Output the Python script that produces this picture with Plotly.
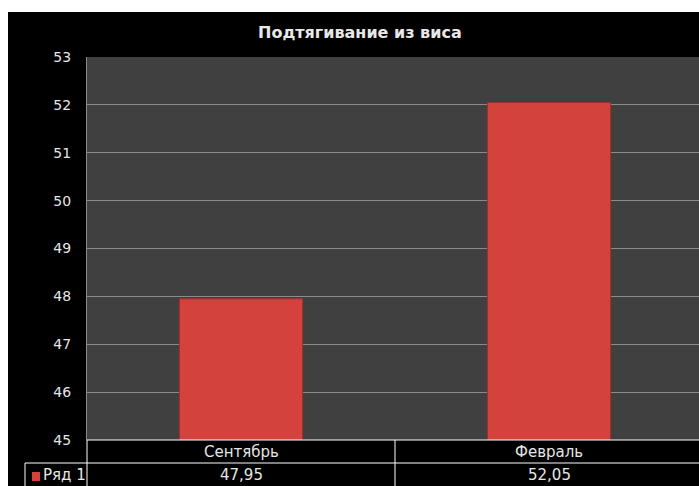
import plotly.graph_objects as go

categories = ["Сентябрь", "Февраль"]
series_name = "Ряд 1"
values = [47.95, 52.05]
title_text = "Подтягивание из виса"
y_ticks = [45, 46, 47, 48, 49, 50, 51, 52, 53]

W, H = 699, 486
ML, MR, MT, MB = 87, 0, 57, 486 - 440
PW = W - ML - MR
PH = H - MT - MB


def px_x(px):
    """window pixel x -> paper coordinate"""
    return (px - ML) / PW


def px_y(py):
    """window pixel y -> paper coordinate"""
    return (H - MB - py) / PH


TXT = "#e6e6e6"
FONT = "DejaVu Sans"
RED = "#d4423e"

fig = go.Figure()
fig.add_trace(go.Bar(
    x=categories, y=values, width=0.4,
    marker=dict(color=RED, line=dict(color="#9e2e2c", width=1)),
    showlegend=False, hoverinfo="skip",
))

shapes = []
line_w = dict(color="#ffffff", width=1)
shapes.append(dict(type="line", xref="paper", yref="paper", x0=0, x1=1, y0=0, y1=0, line=line_w, layer="above"))
shapes.append(dict(type="line", xref="paper", yref="paper", x0=px_x(25), x1=1, y0=px_y(463), y1=px_y(463), line=line_w))
shapes.append(dict(type="line", xref="paper", yref="paper", x0=0, x1=0, y0=0, y1=px_y(495), line=line_w))
shapes.append(dict(type="line", xref="paper", yref="paper", x0=px_x(25), x1=px_x(25), y0=px_y(463), y1=px_y(495), line=line_w))
shapes.append(dict(type="line", xref="x", yref="paper", x0=0.5, x1=0.5, y0=0, y1=px_y(495), line=line_w))
# legend key
shapes.append(dict(type="rect", xref="paper", yref="paper", x0=px_x(32), x1=px_x(40), y0=px_y(481), y1=px_y(472),
                   fillcolor=RED, line=dict(width=0)))
# white strips at top and left (screenshot border)
shapes.append(dict(type="rect", xref="paper", yref="paper", x0=px_x(-2), x1=px_x(710), y0=px_y(12), y1=px_y(-2),
                   fillcolor="#ffffff", line=dict(width=0), layer="above"))
shapes.append(dict(type="rect", xref="paper", yref="paper", x0=px_x(-2), x1=px_x(8), y0=px_y(495), y1=px_y(-2),
                   fillcolor="#ffffff", line=dict(width=0), layer="above"))

annotations = []
for c, v in zip(categories, values):
    annotations.append(dict(x=c, xref="x", y=px_y(451.5), yref="paper", text=c, showarrow=False,
                            font=dict(family=FONT, size=15, color=TXT), xanchor="center", yanchor="middle"))
    annotations.append(dict(x=c, xref="x", y=px_y(474.5), yref="paper", text=f"{v:.2f}".replace(".", ","),
                            showarrow=False, font=dict(family=FONT, size=15, color=TXT),
                            xanchor="center", yanchor="middle"))
annotations.append(dict(x=px_x(41), xref="paper", y=px_y(474.5), yref="paper", text=series_name, showarrow=False,
                        font=dict(family=FONT, size=15, color=TXT), xanchor="left", yanchor="middle"))
annotations.append(dict(x=px_x(360), xref="paper", y=px_y(32), yref="paper", text=f"<b>{title_text}</b>",
                        showarrow=False, font=dict(family=FONT, size=16, color="#e8e8e8"),
                        xanchor="center", yanchor="middle"))

fig.update_layout(
    width=W, height=H,
    margin=dict(l=ML, r=MR, t=MT, b=MB, pad=0),
    paper_bgcolor="#000000",
    plot_bgcolor="#404040",
    xaxis=dict(type="category", range=[-0.5, -0.5 + PW / 308], showticklabels=False, ticks="",
               showgrid=False, zeroline=False, showline=False, fixedrange=True),
    yaxis=dict(range=[45, 53], tickvals=y_ticks, showgrid=True, gridcolor="#8c8c8c", gridwidth=1,
               zeroline=False, showline=True, linecolor="#8c8c8c", linewidth=1,
               ticks="", ticklabelstandoff=12, fixedrange=True,
               tickfont=dict(family=FONT, size=14, color=TXT)),
    shapes=shapes,
    annotations=annotations,
    bargap=0.6,
)

fig.write_html(
    "out.html",
    config={"displayModeBar": False},
    post_script="document.body.style.margin='0';document.body.style.overflow='hidden';",
)
